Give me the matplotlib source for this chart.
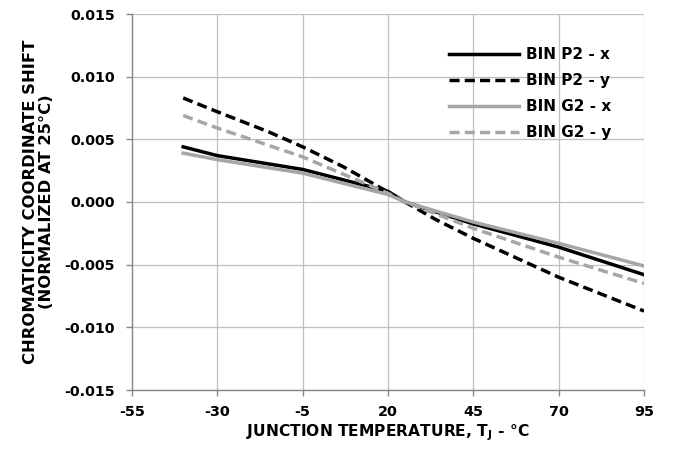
import matplotlib
matplotlib.use("Agg")
import matplotlib.pyplot as plt

temps_p2x = [-40, -30, -5, 20, 25, 45, 70, 95]
p2_x = [0.0044, 0.00370, 0.0026, 0.00085, 0.0, -0.00175, -0.0036, -0.0058]

temps_p2y = [-40, -30, -15, -5, 7, 20, 25, 34, 45, 70, 95]
p2_y = [0.0083, 0.0072, 0.0056, 0.0044, 0.0028, 0.0008, 0.0, -0.0014, -0.0029, -0.0060, -0.0087]

temps_g2x = [-40, -30, -5, 20, 25, 45, 70, 95]
g2_x = [0.0039, 0.00338, 0.0023, 0.0006, 0.0, -0.0016, -0.0033, -0.0051]

temps_g2y = [-40, -30, -5, 20, 25, 45, 70, 95]
g2_y = [0.0069, 0.0059, 0.0036, 0.0007, 0.0, -0.0021, -0.0044, -0.0065]

xticks = [-55, -30, -5, 20, 45, 70, 95]
yticks = [-0.015, -0.010, -0.005, 0.0, 0.005, 0.010, 0.015]

plt.rcParams['font.family'] = ['DejaVu Sans']
plt.rcParams['font.weight'] = 'bold'
plt.rcParams['mathtext.default'] = 'bf'

fig = plt.figure(figsize=(6.73, 4.55), dpi=100)
ax = fig.add_axes([132/673, 1 - 390/455, (644-132)/673, (390-14)/455])

gray = '#A6A6A6'
lw = 2.5
dash = (0, (2.9, 1.5))
ax.plot(temps_p2x, p2_x, color='black', lw=lw, label='BIN P2 - x', zorder=3)
ax.plot(temps_p2y, p2_y, color='black', lw=lw, ls=dash, label='BIN P2 - y', zorder=3)
ax.plot(temps_g2x, g2_x, color=gray, lw=lw, label='BIN G2 - x', zorder=3)
ax.plot(temps_g2y, g2_y, color=gray, lw=lw, ls=dash, label='BIN G2 - y', zorder=3)

ax.set_xlim(-55, 95)
ax.set_ylim(-0.015, 0.015)
ax.set_xticks(xticks)
ax.set_yticks(yticks)
ax.set_xticklabels([str(t) for t in xticks], fontsize=10.4, fontweight='bold')
ax.set_yticklabels([f"{t:.3f}" for t in yticks], fontsize=10.3, fontweight='bold')
ax.grid(True, color='#BFBFBF', lw=0.9, zorder=0)
for s in ['top', 'right']:
    ax.spines[s].set_visible(False)
for s in ['left', 'bottom']:
    ax.spines[s].set_color('#868686')
    ax.spines[s].set_linewidth(1.0)
ax.tick_params(axis='both', color='#868686', length=4.5, width=1.0)
ax.tick_params(axis='x', pad=6)
ax.tick_params(axis='y', pad=8)

ax.set_xlabel(r'JUNCTION TEMPERATURE, T$_\mathbf{J}$ - °C', fontsize=11.2, fontweight='bold', labelpad=3)
ax.set_ylabel('CHROMATICITY COORDINATE SHIFT\n(NORMALIZED AT 25°C)', fontsize=11.8,
              fontweight='bold', labelpad=7, linespacing=1.1)

leg = ax.legend(loc='upper left', bbox_to_anchor=((449-132)/512 - 0.027, 1 - (40-14)/376 + 0.018),
                frameon=False, handlelength=4.6, handletextpad=0.45, labelspacing=0.73,
                prop={'size': 11, 'weight': 'bold'})

fig.savefig('out.png', dpi=100)
